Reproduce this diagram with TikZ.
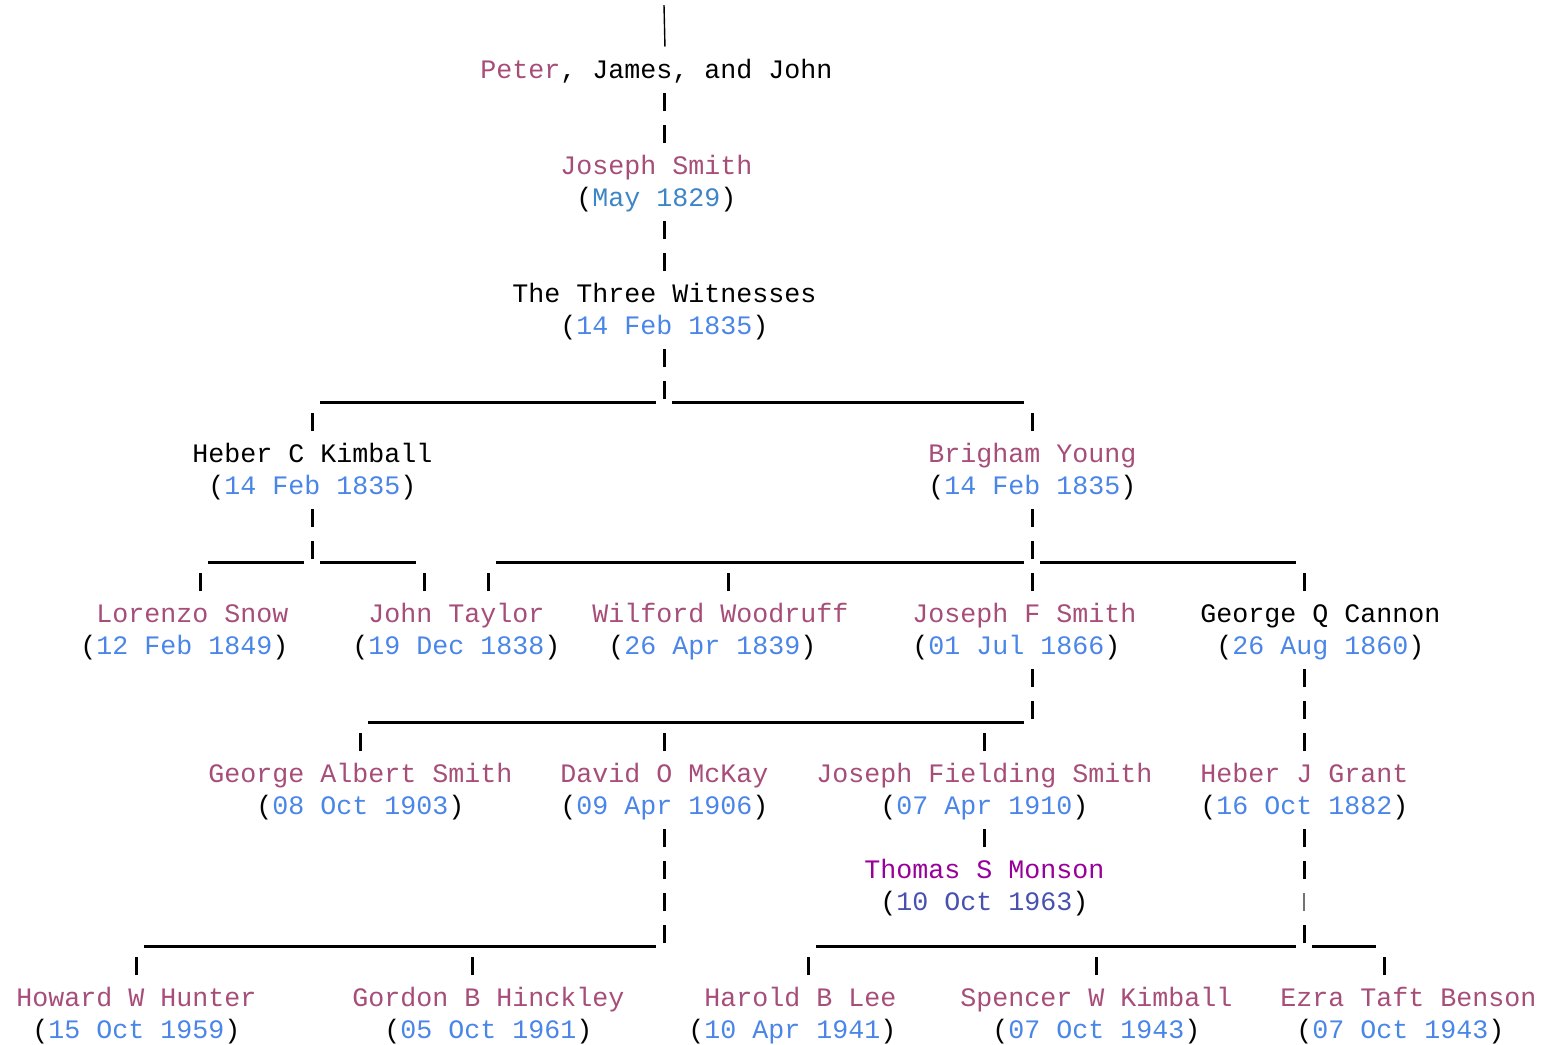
\documentclass[tikz,border=0pt]{standalone}
\usepackage{fontspec}
\setmonofont{Liberation Mono}
\definecolor{namepink}{HTML}{A64D79}
\definecolor{dateblue}{HTML}{4A86E8}
\definecolor{earlyblue}{HTML}{3D85C6}
\definecolor{monsonpurple}{HTML}{990099}
\definecolor{monsondate}{RGB}{72, 80, 176}
\newcommand{\adate}[2][dateblue]{(\textcolor{#1}{#2})}

\begin{document}
\begin{tikzpicture}[x=8pt, y=-16pt,
  person/.style={anchor=west, inner sep=0pt, text height=15.75pt, text depth=7.25pt,
    font=\fontsize{13.33pt}{16pt}\selectfont\ttfamily, text=namepink},
  plain/.style={person, text=black},
  stem/.style={line width=1.5pt, dash pattern=on 9pt off 7pt},
  faintstem/.style={line width=1.1pt, black!55, dash pattern=on 9pt off 7pt},
  rule/.style={line width=1.5pt}]
  \useasboundingbox (-1,-0.1875) rectangle (95.6875,32.4375);

  % Top of the line
  \node[plain] (pjj) at (29,2) {\textcolor{namepink}{Peter}, James, and John};
  \node[person] (js) at (34,5) {Joseph Smith};
  \node[plain] (jsd) at (35,6) {\adate[earlyblue]{May 1829}};
  \node[plain] (tw) at (31,9) {The Three Witnesses};
  \node[plain] (twd) at (34,10) {\adate{14 Feb 1835}};

  % Second generation
  \node[plain] (hck) at (11,14) {Heber C Kimball};
  \node[plain] (hckd) at (12,15) {\adate{14 Feb 1835}};
  \node[person] (by) at (57,14) {Brigham Young};
  \node[plain] (byd) at (57,15) {\adate{14 Feb 1835}};

  % Third generation
  \node[person] (ls) at (5,19) {Lorenzo Snow};
  \node[plain] (lsd) at (4,20) {\adate{12 Feb 1849}};
  \node[person] (jt) at (22,19) {John Taylor};
  \node[plain] (jtd) at (21,20) {\adate{19 Dec 1838}};
  \node[person] (ww) at (36,19) {Wilford Woodruff};
  \node[plain] (wwd) at (37,20) {\adate{26 Apr 1839}};
  \node[person] (jfs) at (56,19) {Joseph F Smith};
  \node[plain] (jfsd) at (56,20) {\adate{01 Jul 1866}};
  \node[plain] (gqc) at (74,19) {George Q Cannon};
  \node[plain] (gqcd) at (75,20) {\adate{26 Aug 1860}};

  % Fourth generation
  \node[person] (gas) at (12,24) {George Albert Smith};
  \node[plain] (gasd) at (15,25) {\adate{08 Oct 1903}};
  \node[person] (dom) at (34,24) {David O McKay};
  \node[plain] (domd) at (34,25) {\adate{09 Apr 1906}};
  \node[person] (jfis) at (50,24) {Joseph Fielding Smith};
  \node[plain] (jfisd) at (54,25) {\adate{07 Apr 1910}};
  \node[person] (hjg) at (74,24) {Heber J Grant};
  \node[plain] (hjgd) at (74,25) {\adate{16 Oct 1882}};
  \node[person, text=monsonpurple] (tsm) at (53,27) {Thomas S Monson};
  \node[plain] (tsmd) at (54,28) {\adate[monsondate]{10 Oct 1963}};

  % Last generation
  \node[person] (hwh) at (0,31) {Howard W Hunter};
  \node[plain] (hwhd) at (1,32) {\adate{15 Oct 1959}};
  \node[person] (gbh) at (21,31) {Gordon B Hinckley};
  \node[plain] (gbhd) at (23,32) {\adate{05 Oct 1961}};
  \node[person] (hbl) at (43,31) {Harold B Lee};
  \node[plain] (hbld) at (42,32) {\adate{10 Apr 1941}};
  \node[person] (swk) at (59,31) {Spencer W Kimball};
  \node[plain] (swkd) at (61,32) {\adate{07 Oct 1943}};
  \node[person] (etb) at (79,31) {Ezra Taft Benson};
  \node[plain] (etbd) at (80,32) {\adate{07 Oct 1943}};

  % Junctions on the underscore rows
  \coordinate (top) at (40.5,-0.03);
  \coordinate (tw-j) at (40.5,12.4);
  \coordinate (hck-j) at (18.5,17.4);
  \coordinate (by-j) at (63.5,17.4);
  \coordinate (jfs-j) at (63.5,22.4);
  \coordinate (dom-j) at (40.5,29.4);
  \coordinate (hjg-j) at (80.5,29.4);
  % where each child hangs from its rule
  \coordinate (hck-t) at (18.5,12.4);
  \coordinate (by-t) at (63.5,12.4);
  \coordinate (ls-t) at (11.5,17.4);
  \coordinate (jt-t) at (25.5,17.4);
  \coordinate (jt-u) at (29.5,17.4);
  \coordinate (ww-t) at (44.5,17.4);
  \coordinate (jfs-t) at (63.5,17.4);
  \coordinate (gqc-t) at (80.5,17.4);
  \coordinate (gas-t) at (21.5,22.4);
  \coordinate (dom-t) at (40.5,22.4);
  \coordinate (jfis-t) at (60.5,22.4);
  \coordinate (hwh-t) at (7.5,29.4);
  \coordinate (gbh-t) at (28.5,29.4);
  \coordinate (hbl-t) at (49.5,29.4);
  \coordinate (swk-t) at (67.5,29.4);
  \coordinate (etb-t) at (85.5,29.4);

  % Straight descents
  \draw[line width=0.7pt] (top) -- (pjj.north -| 40.56,0);
  \draw[stem] (pjj.south -| 40.5,0) -- (js.north -| 40.5,0);
  \draw[stem] (jsd.south -| 40.5,0) -- (tw.north -| 40.5,0);
  \draw[stem] (gqcd.south -| 80.5,0) -- (hjg.north -| 80.5,0);
  \draw[stem] (jfisd.south -| 60.5,0) -- (tsm.north -| 60.5,0);

  % Three Witnesses
  \draw[stem] (twd.south -| tw-j) -- (tw-j);
  \draw[rule] ([xshift=4pt]hck-t) -- ([xshift=-4pt]tw-j);
  \draw[rule] ([xshift=4pt]tw-j) -- ([xshift=-4pt]by-t);
  \foreach \c in {hck, by}
    \draw[stem] (\c.north -| \c-t) -- (\c-t);

  % Heber C Kimball
  \draw[stem] (hckd.south -| hck-j) -- (hck-j);
  \draw[rule] ([xshift=4pt]ls-t) -- ([xshift=-4pt]hck-j);
  \draw[rule] ([xshift=4pt]hck-j) -- ([xshift=-4pt]jt-t);
  \draw[stem] (ls.north -| ls-t) -- (ls-t);
  \draw[stem] (jt.north -| jt-t) -- (jt-t);

  % Brigham Young
  \draw[stem] (byd.south -| by-j) -- (by-j);
  \draw[rule] ([xshift=4pt]jt-u) -- ([xshift=-4pt]by-j);
  \draw[rule] ([xshift=4pt]by-j) -- ([xshift=-4pt]gqc-t);
  \draw[stem] (jt.north -| jt-u) -- (jt-u);
  \foreach \c in {ww, jfs, gqc}
    \draw[stem] (\c.north -| \c-t) -- (\c-t);

  % Joseph F Smith
  \draw[stem] (jfsd.south -| jfs-j) -- (jfs-j);
  \draw[rule] ([xshift=4pt]gas-t) -- ([xshift=-4pt]jfs-j);
  \foreach \c in {gas, dom, jfis}
    \draw[stem] (\c.north -| \c-t) -- (\c-t);

  % David O McKay
  \draw[stem] (domd.south -| dom-j) -- (dom-j);
  \draw[rule] ([xshift=4pt]hwh-t) -- ([xshift=-4pt]dom-j);
  \foreach \c in {hwh, gbh}
    \draw[stem] (\c.north -| \c-t) -- (\c-t);

  % Heber J Grant
  \draw[stem] (hjgd.south -| hjg-j) -- ++(0,1.5625);
  \draw[faintstem] (hjgd.south -| hjg-j) ++(0,2) -- ++(0,0.5625);
  \draw[stem] (hjgd.south -| hjg-j) ++(0,3) -- (hjg-j);
  \draw[rule] ([xshift=4pt]hbl-t) -- ([xshift=-4pt]hjg-j);
  \draw[rule] ([xshift=4pt]hjg-j) -- ([xshift=-4pt]etb-t);
  \foreach \c in {hbl, swk, etb}
    \draw[stem] (\c.north -| \c-t) -- (\c-t);
\end{tikzpicture}
\end{document}
